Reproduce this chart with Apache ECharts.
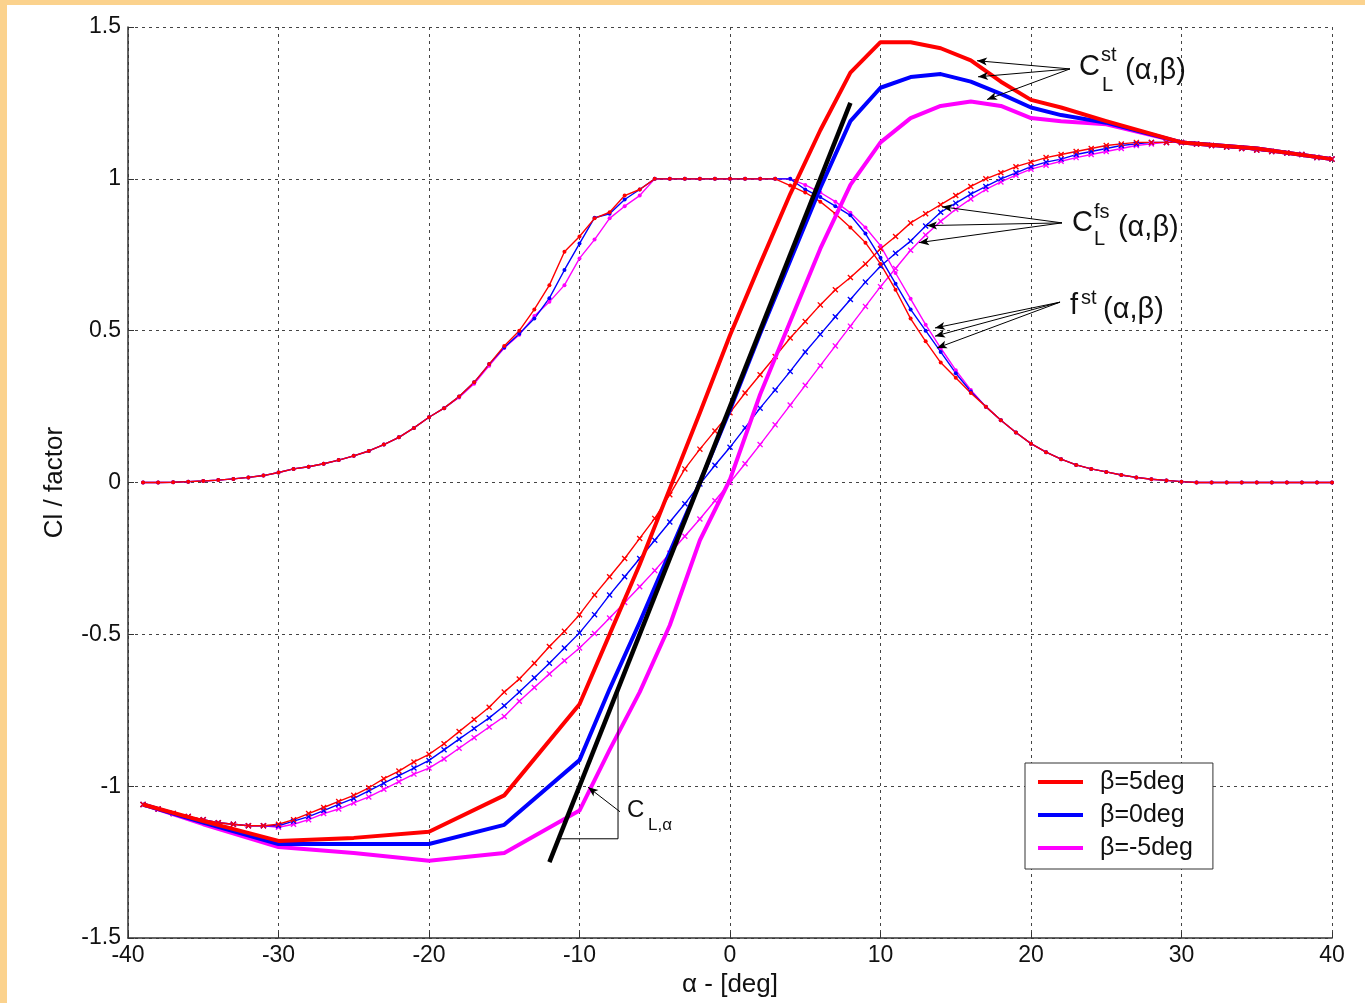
<!DOCTYPE html>
<html><head><meta charset="utf-8">
<script src="https://cdn.jsdelivr.net/npm/echarts@6/dist/echarts.min.js"></script>
<style>
html,body{margin:0;padding:0;background:#FBD28D;overflow:hidden;}
#chart{position:absolute;left:7px;top:5px;width:1358px;height:998px;background:#fff;}
</style></head><body><div id="chart"></div>
<script>
// ---- data ----
const alphaDeg = [
 -39,-38,-37,-36,-35,-34,-33,-32,-31,-30,
 -29,-28,-27,-26,-25,-24,-23,-22,-21,-20,
 -19,-18,-17,-16,-15,-14,-13,-12,-11,-10,
 -9,-8,-7,-6,-5,-4,-3,-2,-1,0,
 1,2,3,4,5,6,7,8,9,10,
 11,12,13,14,15,16,17,18,19,20,
 21,22,23,24,25,26,27,28,29,30,
 31,32,33,34,35,36,37,38,39,40];
const clFsRed = [
 -1.06,-1.075,-1.09,-1.10,-1.11,-1.12,-1.125,-1.13,-1.13,-1.125,
 -1.11,-1.09,-1.07,-1.05,-1.03,-1.005,-0.975,-0.95,-0.92,-0.895,
 -0.86,-0.82,-0.78,-0.74,-0.69,-0.647,-0.595,-0.54,-0.49,-0.435,
 -0.37,-0.31,-0.25,-0.184,-0.118,-0.04,0.045,0.11,0.17,0.23,
 0.295,0.355,0.415,0.476,0.53,0.585,0.635,0.675,0.72,0.77,
 0.81,0.855,0.885,0.915,0.945,0.975,1.0,1.02,1.04,1.055,
 1.07,1.08,1.09,1.10,1.11,1.115,1.12,1.12,1.12,1.12,
 1.115,1.11,1.105,1.10,1.095,1.09,1.085,1.08,1.07,1.065];
const clFsBlue = [
 -1.06,-1.075,-1.09,-1.10,-1.11,-1.12,-1.125,-1.13,-1.13,-1.13,
 -1.115,-1.10,-1.08,-1.06,-1.04,-1.015,-0.99,-0.965,-0.94,-0.915,
 -0.88,-0.845,-0.81,-0.775,-0.735,-0.69,-0.643,-0.595,-0.545,-0.495,
 -0.435,-0.37,-0.31,-0.25,-0.19,-0.13,-0.07,-0.005,0.057,0.116,
 0.18,0.245,0.305,0.366,0.43,0.488,0.546,0.603,0.66,0.712,
 0.755,0.795,0.845,0.89,0.92,0.95,0.975,1.0,1.02,1.04,
 1.055,1.065,1.08,1.09,1.10,1.11,1.115,1.12,1.12,1.12,
 1.115,1.11,1.105,1.10,1.095,1.09,1.085,1.08,1.07,1.065];
const clFsMag = [
 -1.06,-1.075,-1.09,-1.10,-1.11,-1.12,-1.125,-1.13,-1.13,-1.135,
 -1.125,-1.11,-1.09,-1.075,-1.055,-1.035,-1.01,-0.985,-0.96,-0.94,
 -0.91,-0.875,-0.84,-0.805,-0.77,-0.72,-0.675,-0.63,-0.587,-0.545,
 -0.497,-0.446,-0.395,-0.343,-0.29,-0.233,-0.177,-0.12,-0.06,0.0,
 0.062,0.125,0.19,0.255,0.32,0.385,0.45,0.515,0.58,0.645,
 0.705,0.765,0.815,0.86,0.90,0.934,0.965,0.99,1.012,1.032,
 1.045,1.058,1.07,1.08,1.09,1.10,1.11,1.115,1.12,1.12,
 1.115,1.11,1.105,1.10,1.095,1.09,1.085,1.08,1.07,1.065];
const fStRed = [
 0,0,0.001,0.003,0.005,0.008,0.012,0.017,0.023,0.033,
 0.045,0.052,0.062,0.074,0.088,0.104,0.125,0.149,0.18,0.215,
 0.245,0.283,0.33,0.39,0.45,0.50,0.57,0.65,0.76,0.81,
 0.87,0.89,0.945,0.965,1,1,1,1,1,1,
 1,1,1,0.978,0.955,0.925,0.885,0.84,0.79,0.72,
 0.635,0.54,0.465,0.395,0.345,0.295,0.25,0.205,0.165,0.128,
 0.10,0.077,0.058,0.045,0.035,0.025,0.017,0.011,0.007,0.003,
 0,0,0,0,0,0,0,0,0,0];
const fStBlue = [
 0,0,0.001,0.003,0.005,0.008,0.012,0.017,0.023,0.033,
 0.045,0.052,0.062,0.074,0.088,0.104,0.125,0.149,0.18,0.215,
 0.245,0.283,0.33,0.39,0.445,0.49,0.54,0.607,0.70,0.787,
 0.872,0.885,0.932,0.965,1,1,1,1,1,1,
 1,1,1,1,0.965,0.94,0.91,0.88,0.82,0.74,
 0.655,0.57,0.50,0.43,0.36,0.30,0.25,0.205,0.165,0.128,
 0.10,0.077,0.058,0.045,0.035,0.025,0.017,0.011,0.007,0.003,
 0,0,0,0,0,0,0,0,0,0];
const fStMag = [
 0,0,0.001,0.003,0.005,0.008,0.012,0.017,0.023,0.033,
 0.045,0.052,0.062,0.074,0.088,0.104,0.125,0.149,0.18,0.215,
 0.245,0.28,0.325,0.385,0.443,0.487,0.548,0.595,0.65,0.738,
 0.80,0.87,0.91,0.945,1,1,1,1,1,1,
 1,1,1,1,0.98,0.955,0.925,0.888,0.84,0.78,
 0.69,0.605,0.52,0.443,0.37,0.305,0.25,0.205,0.165,0.128,
 0.10,0.077,0.058,0.045,0.035,0.025,0.017,0.011,0.007,0.003,
 0,0,0,0,0,0,0,0,0,0];
const alphaSt = [-39,-35,-30,-25,-20,-15,-10,-8,-6,-4,-2,0,2,4,6,8,10,12,14,16,18,20,22,25,30,35,40];
const clStRed  = [-1.06,-1.115,-1.18,-1.17,-1.15,-1.03,-0.73,-0.50,-0.27,-0.02,0.23,0.485,0.72,0.95,1.16,1.35,1.45,1.45,1.43,1.39,1.32,1.26,1.235,1.19,1.12,1.10,1.065];
const clStBlue = [-1.06,-1.12,-1.19,-1.19,-1.19,-1.127,-0.914,-0.68,-0.46,-0.23,0.0,0.24,0.49,0.73,0.97,1.19,1.30,1.335,1.345,1.32,1.28,1.235,1.21,1.185,1.12,1.10,1.065];
const clStMag  = [-1.06,-1.125,-1.20,-1.22,-1.245,-1.22,-1.08,-0.88,-0.69,-0.47,-0.19,0.01,0.29,0.53,0.77,0.98,1.12,1.20,1.24,1.255,1.24,1.20,1.19,1.18,1.12,1.10,1.065];
const slopeX = [-12, 8];
const slopeY = [-1.25, 1.25];
const triX = [-11.38, -7.44, -7.44];
const triY = [-1.173, -1.173, -0.68];
const arrowStart = [[22.59,1.362],[22.59,1.362],[22.59,1.362],[22.06,0.855],[22.06,0.855],[22.06,0.855],[21.93,0.594],[21.93,0.594],[21.93,0.594],[-7.31,-1.084]];
const arrowEnd   = [[16.41,1.389],[16.48,1.336],[17.08,1.261],[14.09,0.908],[13.09,0.846],[12.56,0.79],[13.62,0.509],[13.62,0.482],[13.75,0.443],[-9.43,-1.003]];
const labelAnchors = {clSt:[23.19,1.369], clFs:[22.72,0.855], fSt:[22.59,0.581], clAlpha:[-6.84,-1.078]};
const legendNames = ['β=5deg','β=0deg','β=-5deg'];
const xTitle = 'α - [deg]';
const yTitle = 'Cl / factor';

// ---- chart ----
const FONT = '"Liberation Sans", Arial, Helvetica, sans-serif';
const RED = '#FF0000', BLUE = '#0000FF', MAG = '#FF00FF';
const pair = (xs, ys) => xs.map((x, i) => [x, ys[i]]);
const xMark = 'path://M0,1.6L1.6,0L10,8.4L8.4,10Z M8.4,0L10,1.6L1.6,10L0,8.4Z';
const chart = echarts.init(document.getElementById('chart'), null, {renderer: 'canvas'});

function fsSeries(ys, c) {
  return {type: 'line', data: pair(alphaDeg, ys), symbol: xMark, symbolSize: 6, showAllSymbol: true,
    lineStyle: {color: c, width: 1.4}, itemStyle: {color: c}, z: 2, silent: true};
}
function fSeries(ys, c) {
  return {type: 'line', data: pair(alphaDeg, ys), symbol: 'circle', symbolSize: 4, showAllSymbol: true,
    lineStyle: {color: c, width: 1.4}, itemStyle: {color: c}, z: 2, silent: true};
}
function stSeries(name, ys, c) {
  return {name: name, type: 'line', data: pair(alphaSt, ys), symbol: 'none',
    lineStyle: {color: c, width: 4, join: 'round'}, itemStyle: {color: c}, z: 3, silent: true};
}
const axisFont = {fontSize: 23, color: '#111', fontFamily: FONT};
const splitStyle = {show: true, lineStyle: {type: [3, 4], color: '#444', width: 1}};

chart.setOption({
  animation: false,
  grid: {left: 121, top: 22, right: 33, bottom: 59, containLabel: false},
  xAxis: {type: 'value', min: -40, max: 40, interval: 10,
    axisLine: {show: true, onZero: false, lineStyle: {color: '#333', width: 1.5}},
    axisTick: {show: true, inside: true, length: 6, lineStyle: {color: '#333'}},
    axisLabel: Object.assign({margin: 6}, axisFont),
    splitLine: splitStyle,
    name: xTitle, nameLocation: 'middle', nameGap: 29,
    nameTextStyle: {fontSize: 26, color: '#111', fontFamily: FONT}},
  yAxis: {type: 'value', min: -1.5, max: 1.5, interval: 0.5,
    axisLine: {show: true, onZero: false, lineStyle: {color: '#333', width: 1.5}},
    axisTick: {show: true, inside: true, length: 6, lineStyle: {color: '#333'}},
    axisLabel: Object.assign({margin: 7}, axisFont),
    splitLine: splitStyle,
    name: yTitle, nameLocation: 'middle', nameGap: 60,
    nameTextStyle: {fontSize: 26, color: '#111', fontFamily: FONT}},
  legend: {data: legendNames, orient: 'vertical', left: 1018, top: 758, icon: 'rect',
    itemWidth: 45, itemHeight: 4, itemGap: 7, padding: [6, 20, 8, 13], selectedMode: false,
    borderColor: '#333', borderWidth: 1, backgroundColor: '#fff',
    textStyle: {fontSize: 25, color: '#111', fontFamily: FONT, padding: [0, 0, 0, 12], lineHeight: 26}},
  series: [
    fsSeries(clFsMag, MAG), fsSeries(clFsBlue, BLUE), fsSeries(clFsRed, RED),
    fSeries(fStMag, MAG), fSeries(fStBlue, BLUE), fSeries(fStRed, RED),
    stSeries(legendNames[2], clStMag, MAG), stSeries(legendNames[1], clStBlue, BLUE), stSeries(legendNames[0], clStRed, RED),
    {type: 'line', data: pair(slopeX, slopeY), symbol: 'none', lineStyle: {color: '#000', width: 4.5}, z: 4, silent: true},
    {type: 'line', data: pair(triX, triY), symbol: 'none', lineStyle: {color: '#000', width: 1}, z: 4, silent: true,
      markLine: {silent: true, symbol: ['none', 'arrow'], symbolSize: [6, 10], precision: 4,
        lineStyle: {color: '#000', width: 1, type: 'solid'}, label: {show: false},
        data: arrowStart.map((s, i) => [{coord: s}, {coord: arrowEnd[i]}])}}
  ]
});

const P = (a) => chart.convertToPixel({gridIndex: 0}, a);
function t(x, y, text, size) {
  return {type: 'text', x: x, y: y, silent: true, z: 10,
    style: {text: text, font: size + 'px ' + FONT, fill: '#111', align: 'left', verticalAlign: 'middle'}};
}
const a1 = P(labelAnchors.clSt), a2 = P(labelAnchors.clFs), a3 = P(labelAnchors.fSt), a4 = P(labelAnchors.clAlpha);
const paren = '(α,β)';
chart.setOption({graphic: [
  t(a1[0], a1[1], 'C', 29), t(a1[0] + 22, a1[1] - 11, 'st', 20), t(a1[0] + 23, a1[1] + 19, 'L', 20), t(a1[0] + 46, a1[1] + 4, paren, 29),
  t(a2[0], a2[1], 'C', 29), t(a2[0] + 22, a2[1] - 10, 'fs', 20), t(a2[0] + 22, a2[1] + 17, 'L', 20), t(a2[0] + 46, a2[1] + 5, paren, 29),
  t(a3[0], a3[1], 'f', 29), t(a3[0] + 11, a3[1] - 8, 'st', 20), t(a3[0] + 33, a3[1] + 4, paren, 29),
  t(a4[0], a4[1], 'C', 24), t(a4[0] + 21, a4[1] + 15, 'L,α', 17)
]});
</script></body></html>
